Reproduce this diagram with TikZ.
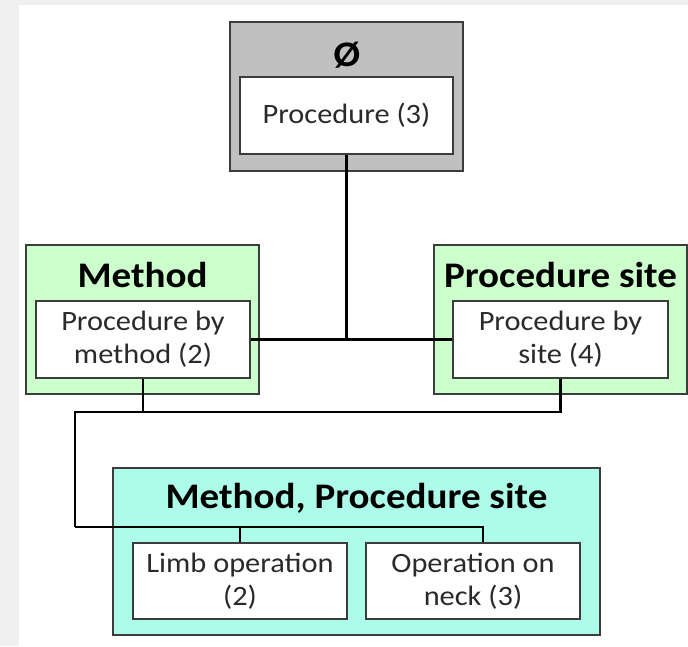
\documentclass[tikz,border=0pt]{standalone}
\usepackage{fontspec}
\setmainfont{Carlito}[FakeStretch=1.085]
\definecolor{bgray}{HTML}{F0F0F0}
\definecolor{gfill}{HTML}{C0C0C0}
\definecolor{greenfill}{HTML}{CCFFCC}
\definecolor{cyanfill}{HTML}{ADFCEA}
\definecolor{bordc}{HTML}{3C3C3C}
\definecolor{bodytext}{HTML}{2A2A2A}
\begin{document}
\begin{tikzpicture}[x=1pt,y=-1pt,
  outerbox/.style={draw=bordc, line width=1.3pt, inner sep=0pt},
  innerbox/.style={draw=bordc, line width=1.3pt, fill=white, inner sep=0pt,
    align=center, text=bodytext, font=\fontsize{28}{33}\selectfont},
  titletext/.style={anchor=base, inner sep=0pt, font=\fontsize{36}{40}\selectfont\bfseries},
  conn/.style={line width=2.8pt, black}]
\useasboundingbox (0,0) rectangle (688,646);
\fill[bgray] (0,0) rectangle (688,646);
\fill[white] (19,5) rectangle (688,646);
% outer groups
\node[outerbox, fill=gfill, minimum width=233, minimum height=149] (g0) at (346.5,96.5) {};
\node[outerbox, fill=greenfill, minimum width=233, minimum height=149] (gm) at (142.5,319.5) {};
\node[outerbox, fill=greenfill, minimum width=253, minimum height=149] (gs) at (560.5,319.5) {};
\node[outerbox, fill=cyanfill, minimum width=487, minimum height=167] (gb) at (356.5,551.5) {};
% titles
\node[titletext] (t0) at (347,66) {Ø};
\node[titletext] (tm) at (142.5,287) {Method};
\node[titletext] (ts) at (560.5,287) {Procedure site};
\node[titletext] (tb) at (356.5,508) {Method, Procedure site};
% inner boxes
\node[innerbox, minimum width=213, minimum height=77] (p3) at (346.5,115.5) {Procedure (3)};
\node[innerbox, minimum width=214, minimum height=77] (pm) at (143,339.5) {Procedure by\\method (2)};
\node[innerbox, minimum width=215, minimum height=77] (ps) at (560.5,339.5) {Procedure by\\site (4)};
% connectors
\coordinate (j2) at (75,412);
\coordinate (j3) at (75,527);
\draw[conn] (p3.south) -- (p3.south |- pm.east);
\draw[conn] (pm.east) -- (ps.west);
\draw[conn] (pm.south) -- (pm.south |- j2);
\draw[conn] (ps.south) |- (j2) -- (j3);
\node[innerbox, minimum width=214, minimum height=76] (lo) at (240,581) {Limb operation\\(2)};
\node[innerbox, minimum width=214, minimum height=76] (ne) at (473,581) {Operation on\\neck (3)};
\draw[conn] (j3) -| ([xshift=10pt]ne.north);
\draw[conn] (lo.north) -- (lo.north |- j3);
\end{tikzpicture}
\end{document}
